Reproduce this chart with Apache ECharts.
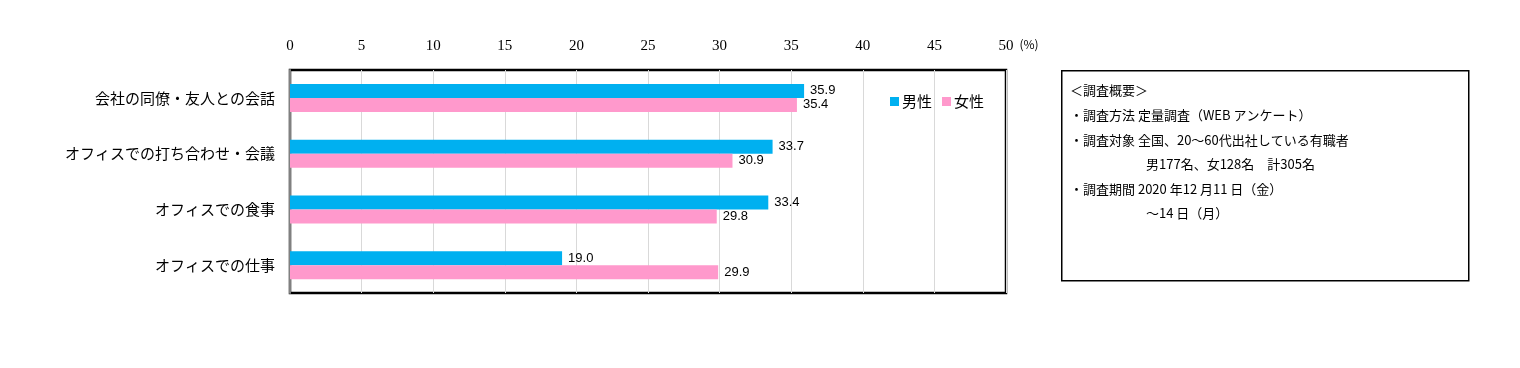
<!DOCTYPE html>
<html><head><meta charset="utf-8">
<script src="https://cdn.jsdelivr.net/npm/echarts@6/dist/echarts.min.js"></script>
<style>html,body{margin:0;padding:0;background:#fff}#c{width:1520px;height:368px}</style>
</head><body><div id="c"></div>
<script>
const categories = ['会社の同僚・友人との会話','オフィスでの打ち合わせ・会議','オフィスでの食事','オフィスでの仕事'];
const seriesNames = ['男性','女性'];
const male = [35.9, 33.7, 33.4, 19.0];
const female = [35.4, 30.9, 29.8, 29.9];
const noteLines = [
  '＜調査概要＞',
  '・調査方法 定量調査（WEB アンケート）',
  '・調査対象 全国、20～60代出社している有職者',
  '男177名、女128名　計305名',
  '・調査期間 2020 年12 月11 日（金）',
  '～14 日（月）'
];
const noteIndent = [false,false,false,true,false,true];

const jp = '"Noto Sans CJK JP", sans-serif';
const chart = echarts.init(document.getElementById('c'));
const lbl = {show:true, position:'right', distance:6, color:'#000', fontSize:13, fontFamily:'"Liberation Sans", sans-serif', formatter: p => p.value.toFixed(1)};
chart.setOption({
  animation:false,
  grid:{left:290, right:514, top:70, bottom:75, show:true, borderColor:'#000', borderWidth:2.5, containLabel:false},
  legend:{data:seriesNames, left:885, top:89, itemWidth:9, itemHeight:9, itemGap:10, icon:'rect',
    textStyle:{fontSize:15, fontFamily:jp, color:'#000', padding:[0,0,0,-2]}},
  xAxis:{type:'value', position:'top', min:0, max:50, interval:5,
    axisLine:{show:false}, axisTick:{show:false},
    splitLine:{show:true, lineStyle:{color:'#d9d9d9', width:1}},
    axisLabel:{margin:16, fontSize:15, color:'#000', fontFamily:'"Liberation Serif", serif'},
    name:'(%)', nameLocation:'end', nameGap:-13,
    nameTextStyle:{fontSize:12, color:'#000', fontFamily:jp, verticalAlign:'bottom', padding:[0,0,20,0]}},
  yAxis:{type:'category', data:categories, inverse:true,
    axisLine:{show:true, lineStyle:{color:'#808080', width:2}}, axisTick:{show:false},
    axisLabel:{margin:15, fontSize:15, color:'#000', fontFamily:jp}},
  series:[
    {name:seriesNames[0], type:'bar', data:male, barWidth:14, barGap:'0%', itemStyle:{color:'#00B0F0'}, label:lbl},
    {name:seriesNames[1], type:'bar', data:female, barWidth:14, barGap:'0%', itemStyle:{color:'#FF99CC'}, label:lbl}
  ],
  graphic:[
    {type:'rect', left:1061, top:70, shape:{width:407, height:210}, style:{fill:'#fff', stroke:'#000', lineWidth:1.5}},
    ...noteLines.map((t,i)=>({type:'text', left: noteIndent[i]?1146:1070, top: 84 + i*24.6,
      style:{text:t, fontSize:13, fontFamily:jp, fill:'#000'}}))
  ]
});
</script></body></html>
